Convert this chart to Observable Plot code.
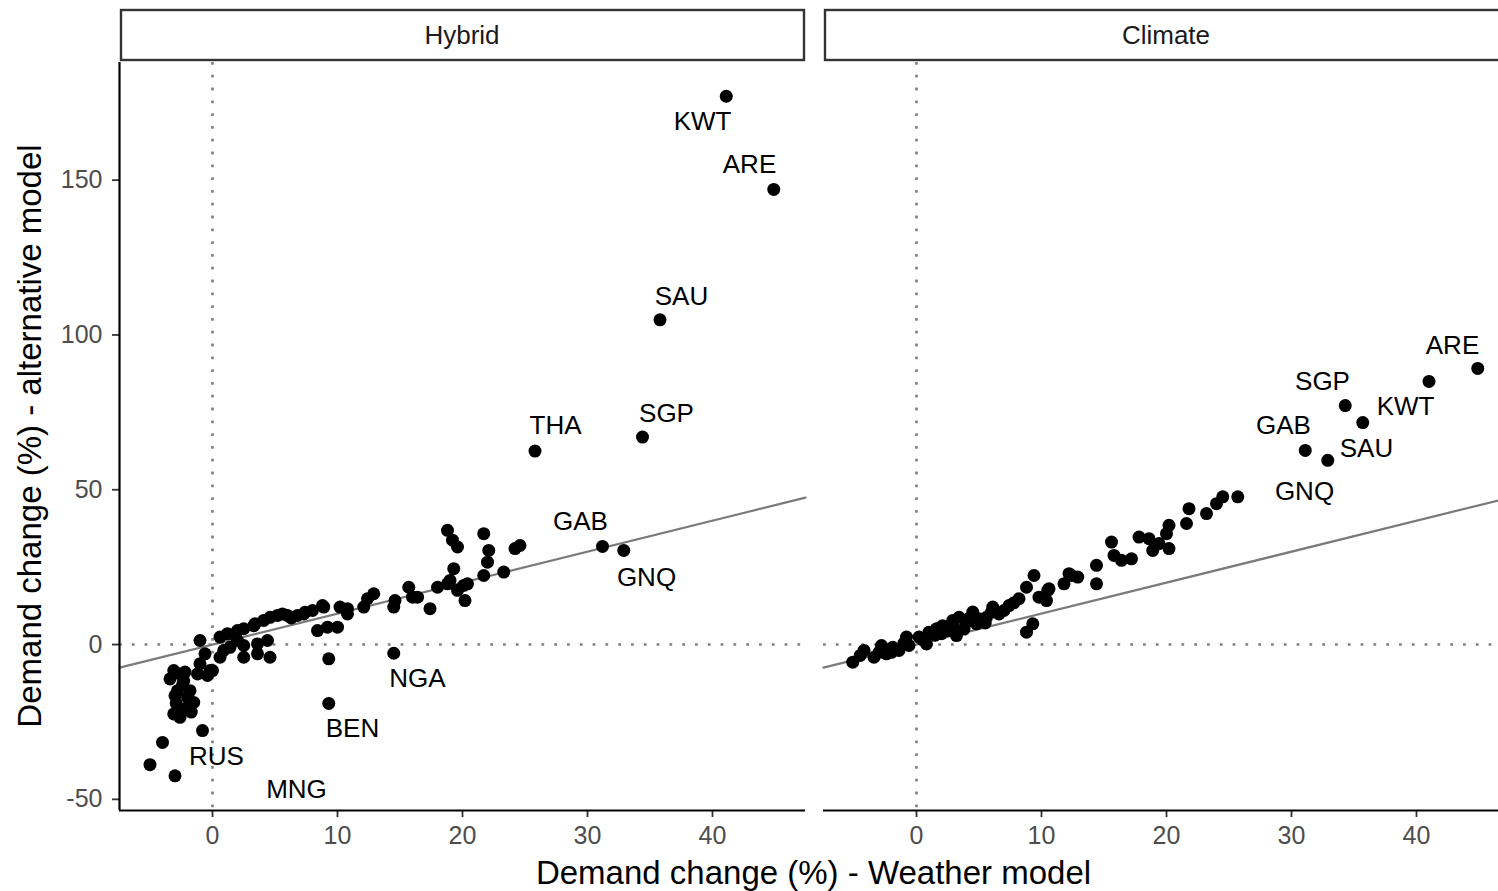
<!DOCTYPE html>
<html><head><meta charset="utf-8">
<script src="https://cdn.jsdelivr.net/npm/d3@7"></script>
<script src="https://cdn.jsdelivr.net/npm/@observablehq/plot@0.6"></script>
<style>
body{margin:0;background:#fff;}
#wrap{width:1498px;height:891px;overflow:hidden;position:relative;}
#wrap svg{max-width:none !important;width:1509px;height:891px;}
</style></head><body><div id="wrap"></div>
<script>
// ---- data ----
const panels = ["Hybrid", "Climate"];
const xTicks = [0, 10, 20, 30, 40];
const yTicks = [-50, 0, 50, 100, 150];
const xDomain = [-7.44, 47.44];
const yDomain = [-53.6, 188.0];
const xTitle = "Demand change (%) - Weather model";
const yTitle = "Demand change (%) - alternative model";

const hybridX = [-5.0,-4.0,-3.0,-0.8,-3.1,-2.6,-3.4,-2.3,-2.8,-1.8,-2.0,-1.5,-2.8,-2.6,-3.1,-2.0,-1.0,-0.6,-1.0,-0.2,-0.4,-1.2,0.6,1.2,2.0,2.5,3.3,4.1,4.6,5.2,6.0,6.8,7.3,4.4,3.6,2.5,1.4,0.9,0.6,2.5,3.6,4.6,2.0,8.9,10.2,10.8,10.8,9.2,8.4,10.0,9.3,9.3,12.1,12.4,12.9,14.5,14.6,16.0,15.7,14.5,17.4,18.0,18.8,19.0,19.6,20.2,20.4,19.3,21.7,18.8,19.2,19.6,21.7,22.1,22.0,23.3,24.2,24.6,25.8,31.2,32.9,34.4,35.8,41.1,44.9,16.4,20.1,5.6,3.4,7.4,1.8,6.3,8.0,0.0,8.8,-2.4,-3.0,-1.7,-2.2,-2.9];
const hybridY = [-38.8,-31.6,-42.4,-27.8,-8.4,-9.5,-11.1,-11.7,-14.9,-14.9,-17.1,-18.7,-21.4,-23.5,-22.4,-20.3,1.3,-3.0,-6.2,-8.4,-10.0,-9.5,2.4,3.5,4.5,5.1,6.1,7.8,8.8,9.4,9.4,9.4,9.9,1.3,0.2,-0.3,-0.9,-1.9,-4.1,-4.1,-3.0,-4.1,1.3,12.1,12.1,11.6,9.9,5.6,4.5,5.6,-4.6,-19.0,12.1,14.8,16.4,12.1,14.2,15.3,18.5,-2.8,11.6,18.5,19.6,20.7,17.5,14.2,19.6,24.5,22.3,36.9,33.7,31.5,35.8,30.4,26.6,23.4,31.0,32.0,62.5,31.7,30.4,67.0,104.9,177.1,147.0,15.3,19.1,9.9,6.7,10.4,3.0,8.6,11.0,-8.4,12.6,-13.0,-16.5,-21.8,-8.9,-19.0];

const climateX = [-5.1,-4.2,-3.4,-2.8,-2.4,-1.9,-1.4,-0.8,-0.6,0.2,0.8,1.0,1.6,2.1,2.6,2.9,3.2,3.4,4.0,4.5,4.8,5.0,5.6,6.1,6.6,7.4,8.2,8.8,9.4,8.8,9.3,9.8,10.6,10.4,11.8,12.4,12.9,14.4,14.4,15.6,15.8,16.4,17.2,17.8,18.6,18.9,19.4,20.2,20.0,20.2,21.6,21.8,23.2,24.0,24.5,25.7,10.5,12.2,44.9,41.0,35.7,34.3,31.1,32.9,-3.0,-1.0,0.5,1.5,2.0,3.0,3.8,4.2,5.5,6.0,7.0,7.8,-4.5,-2.0];
const climateY = [-5.7,-1.9,-4.1,-0.3,-3.0,-0.9,-1.9,2.4,-0.3,2.4,0.2,4.0,5.1,6.1,4.5,7.8,2.9,8.8,7.2,10.5,6.7,8.3,8.8,12.1,9.9,12.6,14.8,18.5,22.3,4.0,6.7,15.3,18.0,14.2,19.6,22.3,21.8,25.6,19.6,33.1,28.8,27.2,27.7,34.7,34.2,30.4,32.6,31.0,35.8,38.5,39.1,43.9,42.3,45.5,47.7,47.7,17.5,22.9,89.2,85.0,71.7,77.2,62.7,59.5,-2.5,0.5,1.5,3.0,3.5,5.5,5.0,8.5,7.0,10.5,11.0,13.5,-3.5,-2.5];

const hybridLabels = ["KWT","ARE","SAU","THA","SGP","GAB","GNQ","NGA","BEN","RUS","MNG"];
const hybridLabelX = [39.2,42.96,37.52,27.44,36.32,29.44,34.72,16.4,11.2,0.32,6.72];
const hybridLabelY = [169.0,155.1,112.4,70.8,74.6,39.7,21.6,-11.0,-27.1,-36.2,-46.8];

const climateLabels = ["ARE","SGP","KWT","GAB","SAU","GNQ"];
const climateLabelX = [42.88,32.48,39.12,29.36,36.0,31.04];
const climateLabelY = [96.6,85.0,76.9,70.8,63.3,49.4];

// ---- tables ----
const points = [
  ...hybridX.map((x, i) => ({panel: "Hybrid", x, y: hybridY[i]})),
  ...climateX.map((x, i) => ({panel: "Climate", x, y: climateY[i]}))
];
const labels = [
  ...hybridLabels.map((t, i) => ({panel: "Hybrid", t, x: hybridLabelX[i], y: hybridLabelY[i]})),
  ...climateLabels.map((t, i) => ({panel: "Climate", t, x: climateLabelX[i], y: climateLabelY[i]}))
];

const FONT = "Liberation Sans, Arial, Helvetica, sans-serif";
const W = 1509, H = 891, ML = 118, MT = 62, MB = 81;

const chart = Plot.plot({
  width: W, height: H,
  marginLeft: ML, marginRight: 0, marginTop: MT, marginBottom: MB,
  style: {fontFamily: FONT, background: "white", overflow: "visible", maxWidth: "none"},
  fx: {domain: panels, paddingInner: 0.0256, paddingOuter: 0, axis: null, label: null},
  x: {domain: xDomain, label: null, axis: null},
  y: {domain: yDomain, label: null, axis: null},
  marks: [
    Plot.ruleX([0], {stroke: "#808080", strokeWidth: 2.6, strokeDasharray: "2.8,10"}),
    Plot.ruleY([0], {stroke: "#808080", strokeWidth: 2.6, strokeDasharray: "2.8,10"}),
    Plot.line(xDomain, {x: d => d, y: d => d, stroke: "#7a7a7a", strokeWidth: 2.2}),
    Plot.dot(points, {x: "x", y: "y", fx: "panel", r: 6.5, fill: "black", stroke: "none"}),
    Plot.text(labels, {x: "x", y: "y", fx: "panel", text: "t", fontSize: 26, fill: "black", fontFamily: FONT}),
    Plot.axisX({ticks: xTicks, tickFormat: d => String(d), tickSize: 7, tickPadding: 9, fontSize: 25, stroke: "#333", fill: "#4d4d4d", strokeWidth: 1.8, label: null, fontFamily: FONT}),
    Plot.axisY({ticks: yTicks, tickFormat: d => String(d), tickSize: 7, tickPadding: 10, fontSize: 25, stroke: "#333", fill: "#4d4d4d", strokeWidth: 1.8, label: null, facetAnchor: "left", fontFamily: FONT}),
    Plot.ruleY([yDomain[0]], {stroke: "black", strokeWidth: 2.2}),
    Plot.ruleX([xDomain[0]], {fx: ["Hybrid"], stroke: "black", strokeWidth: 2.2})
  ]
});

document.getElementById("wrap").appendChild(chart);

// ---- facet strips and axis titles ----
const svg = d3.select(chart);
const fx = chart.scale("fx");
const bw = fx.bandwidth;
panels.forEach(p => {
  const x0 = fx.apply(p);
  svg.append("rect")
    .attr("x", x0 + 2).attr("y", 10).attr("width", bw - 3).attr("height", 50)
    .attr("fill", "white").attr("stroke", "#333").attr("stroke-width", 2.4);
  svg.append("text")
    .attr("x", x0 + bw / 2).attr("y", 37)
    .attr("text-anchor", "middle").attr("dominant-baseline", "middle")
    .attr("font-family", FONT).attr("font-size", 26).attr("fill", "#1a1a1a")
    .text(p);
});
const panelLeft = ML, panelRight = W;
svg.append("text")
  .attr("x", (panelLeft + panelRight) / 2).attr("y", 884)
  .attr("text-anchor", "middle").attr("font-family", FONT).attr("font-size", 33).attr("fill", "black")
  .text(xTitle);
svg.append("text")
  .attr("transform", `translate(41,${(MT + (H - MB)) / 2}) rotate(-90)`)
  .attr("text-anchor", "middle").attr("font-family", FONT).attr("font-size", 33).attr("fill", "black")
  .text(yTitle);
</script></body></html>
